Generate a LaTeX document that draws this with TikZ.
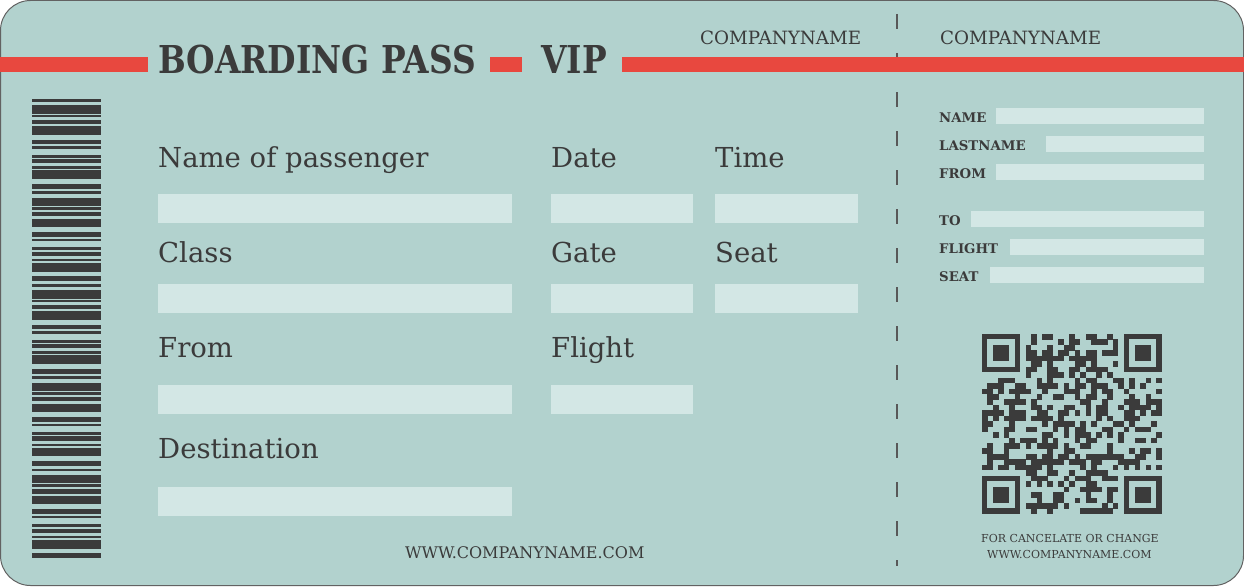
\documentclass[tikz,border=0pt]{standalone}
\usepackage{fontspec}
\setmainfont{DejaVu Serif}
\newfontfamily\headfont{DejaVu Serif}[FakeStretch=0.855]
\definecolor{card}{HTML}{B2D2CE}
\definecolor{fieldc}{HTML}{D3E7E5}
\definecolor{ink}{HTML}{3B3B3B}
\definecolor{band}{HTML}{E8483F}
\tikzset{
	lbl/.style={anchor=base west, inner sep=0, text=ink, font=\fontsize{27.5}{30}\selectfont},
	head/.style={anchor=base west, inner sep=0, text=ink, font=\headfont\bfseries\fontsize{38.4}{40}\selectfont},
	company/.style={anchor=base west, inner sep=0, text=ink, font=\fontsize{18.3}{20}\selectfont},
	stublbl/.style={anchor=base west, inner sep=0, text=ink, font=\bfseries\fontsize{13.3}{15}\selectfont},
	small/.style={anchor=base west, inner sep=0, text=ink, font=\fontsize{11}{12}\selectfont},
	field/.style={fill=fieldc},
}
\begin{document}
\begin{tikzpicture}[x=1pt, y=-1pt]
	\useasboundingbox (0,0) rectangle (1244,586);
	\fill[white] (0,0) rectangle (1244,586);
	\draw[rounded corners=30, fill=card, draw=ink!80, line width=1] (0.5,0.5) rectangle (1243.5,585.5);

	% barcode
	\begin{scope}
		\clip (32,98.5) rectangle (101,558.5);
		\foreach \k in {0,...,5}{
			\pgfmathsetmacro\s{47.3+92.4*\k}
			\foreach \a/\b in {0/4.7, 6.7/9, 15/18, 19.4/23.7, 26.7/29, 30.7/39.4,
					44/49, 51.7/54.4, 58/66.4, 67.4/70, 72.4/76.7, 79/87.4}
				\fill[ink] (32,\s+\a) rectangle (101,\s+\b);
		}
	\end{scope}

	% cut line and band
	\draw[ink!85, line width=2, dash pattern=on 15pt off 24pt] (897,14) -- (897,566);
	\fill[band] (0,57) rectangle (148,72);
	\fill[band] (490,57) rectangle (522,72);
	\fill[band] (622,57) rectangle (1244,72);

	\node[head] (title) at (158,74) {BOARDING PASS};
	\node[head] (vip) at (541,74) {VIP};
	\node[company] (company) at (700,45) {COMPANYNAME};
	\node[company] (stubcompany) at (940,45) {COMPANYNAME};

	% main fields
	\node[lbl] (passenger) at (158,167) {Name of passenger};
	\node[lbl] (date) at (551,167) {Date};
	\node[lbl] (time) at (715,167) {Time};
	\fill[field] (158,194) rectangle (512,223);
	\fill[field] (551,194) rectangle (693,223);
	\fill[field] (715,194) rectangle (858,223);

	\node[lbl] (class) at (158,262) {Class};
	\node[lbl] (gate) at (551,262) {Gate};
	\node[lbl] (seat) at (715,262) {Seat};
	\fill[field] (158,284) rectangle (512,313);
	\fill[field] (551,284) rectangle (693,313);
	\fill[field] (715,284) rectangle (858,313);

	\node[lbl] (from) at (158,357) {From};
	\node[lbl] (flight) at (551,357) {Flight};
	\fill[field] (158,385) rectangle (512,414);
	\fill[field] (551,385) rectangle (693,414);

	\node[lbl] (destination) at (158,458) {Destination};
	\fill[field] (158,487) rectangle (512,516);

	\node[anchor=base west, inner sep=0, text=ink, font=\fontsize{16}{18}\selectfont] (web) at (405,558) {WWW.COMPANYNAME.COM};

	% stub fields
	\foreach \name/\y/\x in {NAME/122/996, LASTNAME/150/1046, FROM/178/996,
			TO/225/971, FLIGHT/253/1010, SEAT/281/990}{
		\node[stublbl] (stub\name) at (939,\y) {\name};
		\fill[field] (\x,\y-14) rectangle (1204,\y+2);
	}

	% qr code
	\foreach \i in {0,...,32}{
		\foreach \j in {0,...,32}{
			\pgfmathtruncatemacro\qbit{(mod(mod(\i*\i,37)*(\i+3)+mod(\j*\j,41)*(\j+5)+\i*\j*7,19)<9)*(1-((\i<8)+(\i>24))*((\j<8)+(\j>24)))}
			\ifnum\qbit=1 \fill[ink] (982+\i*5.45,334+\j*5.45) rectangle ++(5.6,5.6);\fi
		}
	}
	\foreach \u/\v in {0/0, 26/0, 0/26, 26/26}{
		\fill[ink] (982+\u*5.45,334+\v*5.45) rectangle ++(38.15,38.15);
		\fill[card] (982+\u*5.45+5.45,334+\v*5.45+5.45) rectangle ++(27.25,27.25);
		\fill[ink] (982+\u*5.45+10.9,334+\v*5.45+10.9) rectangle ++(16.35,16.35);
	}
	\node[small] (cancel) at (981,542) {FOR CANCELATE OR CHANGE};
	\node[small] (stubweb) at (987,558) {WWW.COMPANYNAME.COM};
\end{tikzpicture}
\end{document}
